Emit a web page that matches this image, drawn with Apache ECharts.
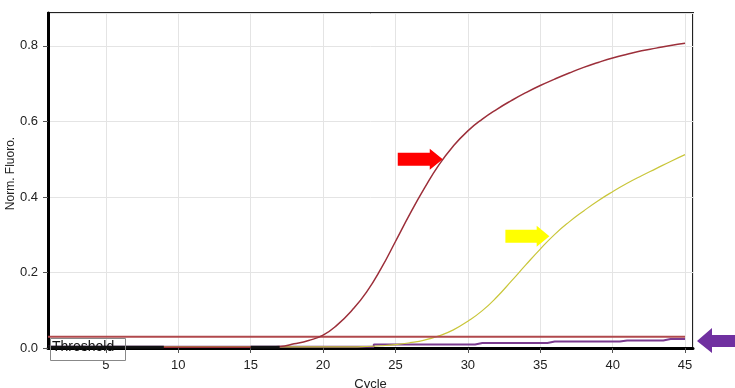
<!DOCTYPE html>
<html><head><meta charset="utf-8">
<script src="https://cdn.jsdelivr.net/npm/echarts@6/dist/echarts.min.js"></script>
<style>html,body{margin:0;padding:0;background:#fff}#c{width:735px;height:388px}</style>
</head><body><div id="c"></div>
<script>
const cycles = [1,2,3,4,5,6,7,8,9,10,11,12,13,14,15,16,17,18,19,20,21,22,23,24,25,26,27,28,29,30,31,32,33,34,35,36,37,38,39,40,41,42,43,44,45];
const redSample = [0.002,0.002,0.002,0.002,0.002,0.002,0.002,0.002,0.002,0.002,0.002,0.002,0.002,0.002,0.002,0.002,
  0.004,0.011,0.02,0.034,0.062,0.10,0.148,0.21,0.282,0.355,0.423,0.485,0.535,0.575,0.606,0.632,0.655,0.676,0.695,0.712,0.728,0.743,0.756,0.768,0.778,0.787,0.794,0.801,0.807];
const yellowSample = [0.003,0.003,0.003,0.003,0.003,0.003,0.003,0.003,0.003,0.003,0.003,0.003,0.003,0.003,0.003,0.003,0.003,0.003,0.003,0.003,0.003,0.003,
  0.004,0.006,0.009,0.014,0.021,0.032,0.048,0.071,0.099,0.135,0.177,0.220,0.262,0.301,0.334,0.363,0.390,0.414,0.436,0.456,0.475,0.494,0.512];
const purpleSample = [0.003,0.003,0.003,0.003,0.003,0.003,0.003,0.003,0.003,0.003,0.003,0.003,0.003,0.003,0.003,0.003,0.003,0.003,0.003,0.003,0.003,0.003,0.003,
  0.009,0.009,0.009,0.009,0.009,0.009,0.009,0.013,0.013,0.013,0.013,0.013,0.017,0.017,0.017,0.017,0.017,0.020,0.020,0.020,0.024,0.024];
const baselineSample = [0.002,0.002,0.002,0.002,0.002,0.002,0.002,0.002,0.002,null,null,null,null,null,0.002,0.002,0.002,
  null,null,null,null,null,null,null,null,null,null,null,null,null,null,null,null,null,null,null,null,null,null,null,null,null,null,null,null];
const thresholdValue = 0.03;
const yTicks = [0, 0.2, 0.4, 0.6, 0.8];
const redArrowAt = [28.3, 0.50];
const yellowArrowAt = [35.7, 0.296];

const pairs = arr => cycles.map((c, i) => [c, arr[i]]);
const arrowPath = 'path://M0,4 L32,4 L32,0 L45,10.5 L32,21 L32,17 L0,17 Z';
const font = 'Liberation Sans, Arial, sans-serif';

const chart = echarts.init(document.getElementById('c'));
chart.setOption({
  animation: false,
  backgroundColor: '#fff',
  grid: { left: 48, right: 42, top: 13, bottom: 40, show: true, borderColor: '#222', borderWidth: 2,
    backgroundColor: 'transparent', containLabel: false, outerBoundsMode: 'none' },
  xAxis: {
    type: 'value', min: 1, max: 45.55, splitNumber: 9,
    name: 'Cycle', nameLocation: 'middle', nameGap: 30, nameMoveOverlap: false,
    nameTextStyle: { fontFamily: font, fontSize: 13, color: '#222' },
    axisLine: { show: true, lineStyle: { color: '#000', width: 3 } },
    axisTick: { show: true, length: 5, lineStyle: { color: '#555' } },
    axisLabel: { margin: 11, fontFamily: font, fontSize: 13, color: '#222', showMinLabel: false, showMaxLabel: false,
      formatter: v => (Math.abs(v % 5) < 1e-6 ? String(v) : '') },
    splitLine: { show: true, lineStyle: { color: '#e4e4e4', width: 1 } }
  },
  yAxis: {
    type: 'value', min: 0, max: 0.887, interval: 0.2,
    name: 'Norm. Fluoro.', nameLocation: 'middle', nameGap: 31, nameMoveOverlap: false,
    nameTextStyle: { fontFamily: font, fontSize: 12, color: '#222', padding: [0, 0, 0, 14] },
    axisLine: { show: true, lineStyle: { color: '#000', width: 3 } },
    axisTick: { show: true, length: 5, lineStyle: { color: '#555' } },
    axisLabel: { margin: 10, fontFamily: font, fontSize: 13, color: '#222', showMaxLabel: false,
      formatter: v => (yTicks.some(t => Math.abs(t - v) < 1e-6) ? v.toFixed(1) : '') },
    splitLine: { show: true, lineStyle: { color: '#e4e4e4', width: 1 } }
  },
  series: [
    { name: 'purple', type: 'line', data: pairs(purpleSample), step: 'middle', showSymbol: false,
      lineStyle: { color: '#7a3b8f', width: 2 }, z: 2 },
    { name: 'yellow', type: 'line', data: pairs(yellowSample), smooth: 0.5, showSymbol: false,
      lineStyle: { color: '#c9c63a', width: 1.2 }, z: 3,
      markPoint: { silent: true, label: { show: false }, data: [
        { coord: yellowArrowAt, symbol: arrowPath, symbolSize: [44, 21], symbolOffset: [-23, 0], itemStyle: { color: '#ffff00' } }
      ] } },
    { name: 'threshold', type: 'line', data: [[cycles[0], thresholdValue], [cycles[cycles.length - 1], thresholdValue]],
      showSymbol: false, lineStyle: { color: '#b0494c', width: 2 }, z: 4 },
    { name: 'red', type: 'line', data: pairs(redSample), smooth: 0.5, showSymbol: false,
      lineStyle: { color: '#9c2f3a', width: 1.5 }, z: 5,
      markPoint: { silent: true, label: { show: false }, data: [
        { coord: redArrowAt, symbol: arrowPath, symbolSize: [45, 21], symbolOffset: [-23, 0], itemStyle: { color: '#ff0000' } }
      ] } },
    { name: 'baseline', type: 'line', data: pairs(baselineSample), showSymbol: false, connectNulls: false,
      lineStyle: { color: '#111', width: 3 }, z: 6 }
  ],
  graphic: [
    { type: 'rect', left: 48, top: 336, shape: { width: 75, height: 22 }, style: { fill: 'none', stroke: '#888', lineWidth: 1 }, z: 100 },
    { type: 'text', left: 52, top: 340, style: { text: 'Threshold', font: '14px ' + font, fill: '#111' }, z: 101 },
    { type: 'polygon', right: 0, top: 328, shape: { points: [[0,13],[15,0],[15,7],[38,7],[38,19],[15,19],[15,25]] }, style: { fill: '#7030a0' }, z: 100 }
  ]
});
</script>
</body></html>
